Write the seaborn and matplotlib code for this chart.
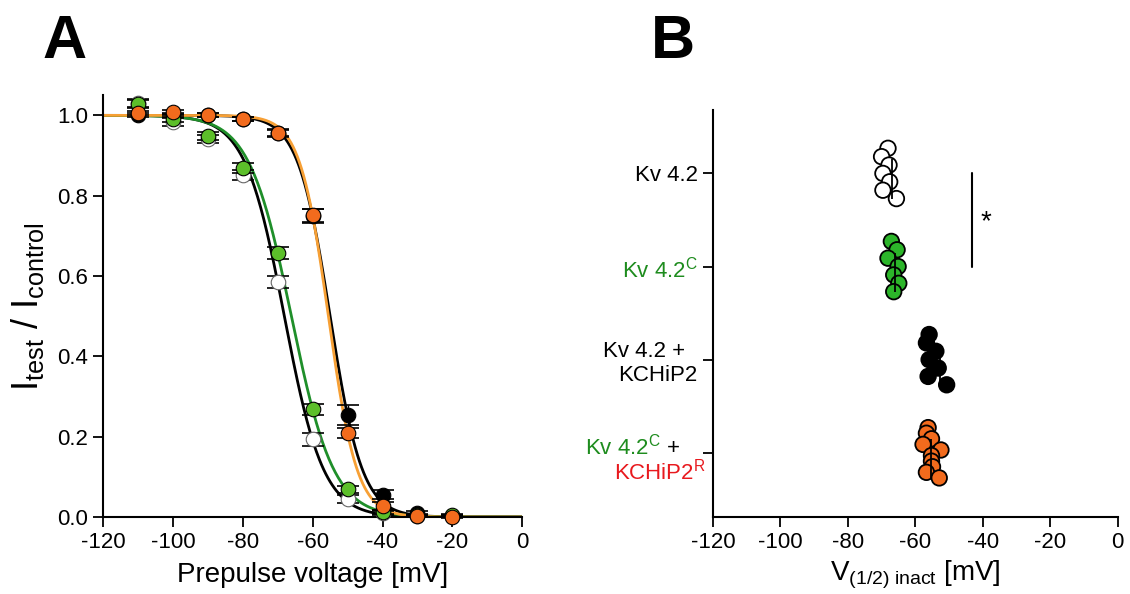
import numpy as np
import pandas as pd
import seaborn as sns
import matplotlib.pyplot as plt

# ---- Panel A: steady-state inactivation ----
prepulse = [-110, -100, -90, -80, -70, -60, -50, -40, -30, -20]

kv42 = [1.030, 0.983, 0.940, 0.851, 0.585, 0.193, 0.044, 0.010, 0.003, 0.002]
kv42_err = [0.010, 0.010, 0.010, 0.013, 0.015, 0.017, 0.010, 0.005, 0.003, 0.003]

kv42c = [1.029, 0.992, 0.948, 0.869, 0.657, 0.268, 0.069, 0.013, 0.004, 0.004]
kv42c_err = [0.010, 0.008, 0.010, 0.013, 0.015, 0.013, 0.008, 0.005, 0.003, 0.003]

kv42_kchip = [1.000, 1.000, 1.000, 0.990, 0.955, 0.750, 0.254, 0.056, 0.011, 0.003]
kv42_kchip_err = [0.005, 0.005, 0.005, 0.005, 0.008, 0.017, 0.025, 0.012, 0.005, 0.003]

kv42c_kchipr = [1.006, 1.008, 1.002, 0.992, 0.957, 0.751, 0.209, 0.027, 0.003, 0.001]
kv42c_kchipr_err = [0.005, 0.005, 0.005, 0.005, 0.008, 0.017, 0.012, 0.010, 0.003, 0.003]

# Boltzmann fit parameters: V1/2 [mV] and slope k [mV]
fit_vhalf = [-68.1, -66.1, -55.0, -55.5]
fit_slope = [5.6, 6.05, 4.6, 4.1]

# ---- Panel B: V1/2 of inactivation, single cells (top to bottom) ----
groups = ['Kv 4.2', 'Kv 4.2C', 'Kv 4.2 + KCHiP2', 'Kv 4.2C + KCHiP2R']
vhalf_kv42 = [-68.1, -70.0, -67.8, -69.6, -67.6, -69.6, -65.6]
vhalf_kv42c = [-67.1, -65.4, -68.1, -65.1, -66.4, -64.9, -66.4]
vhalf_kv42_kchip = [-55.9, -56.7, -53.9, -55.9, -53.2, -56.2, -50.7]
vhalf_kv42c_kchipr = [-56.2, -56.7, -55.2, -57.7, -52.4, -55.2, -55.2, -54.9, -56.7, -52.9]
bar_x = [-67.0, -66.0, -52.7, -55.3]
sig_x = -43.3

# colours
green_pt = '#5cbf2a'
green_pt_b = '#2cb52a'
green_line = '#1f8f2a'
green_txt = '#1e8c1e'
orange_pt = '#f26b1d'
orange_line = '#f7a035'
red_txt = '#e8191e'

sns.set_style('ticks')
plt.rcParams['font.family'] = ['Liberation Sans', 'DejaVu Sans']
plt.rcParams['mathtext.fontset'] = 'custom'
plt.rcParams['mathtext.rm'] = 'Liberation Sans'
plt.rcParams['mathtext.it'] = 'Liberation Sans:italic'
plt.rcParams['mathtext.bf'] = 'Liberation Sans:bold'
plt.rcParams['axes.unicode_minus'] = False
for key in ('text.color', 'axes.labelcolor', 'xtick.color', 'ytick.color', 'axes.edgecolor'):
    plt.rcParams[key] = 'black'

fig = plt.figure(figsize=(11.3, 5.94), dpi=100)
axA = fig.add_axes([0.0912, 0.1296, 0.371, 0.710])
axB = fig.add_axes([0.631, 0.1296, 0.358, 0.685])

# ---- Panel A ----
v = np.linspace(-120, 0, 400)
series = [
    (kv42, kv42_err, 'white', 'black'),
    (kv42_kchip, kv42_kchip_err, 'black', 'black'),
    (kv42c, kv42c_err, green_pt, green_line),
    (kv42c_kchipr, kv42c_kchipr_err, orange_pt, orange_line),
]
fit_order = [0, 2, 1, 3]
for i, (vals, err, fc, lc) in enumerate(series):
    vh, k = fit_vhalf[fit_order[i]], fit_slope[fit_order[i]]
    fit = pd.DataFrame({'v': v, 'y': 1 / (1 + np.exp((v - vh) / k))})
    sns.lineplot(data=fit, x='v', y='y', color=lc, lw=2, ax=axA, zorder=2)

for i, (vals, err, fc, lc) in enumerate(series):
    z = 3 + 2 * i
    axA.errorbar(prepulse, vals, yerr=err, fmt='none', ecolor='black',
                 elinewidth=1, capsize=8, capthick=1.2, zorder=z, clip_on=False)
    ec = '#666666' if fc == 'white' else 'black'
    sns.scatterplot(x=prepulse, y=vals, color=fc, edgecolor=ec, linewidth=0.8,
                    s=110, ax=axA, zorder=z + 1, clip_on=False)

axA.set_xlim(-120, 0)
axA.set_ylim(0, 1.05)
axA.set_xticks(np.arange(-120, 1, 20))
axA.set_yticks(np.arange(0, 1.01, 0.2))
axA.set_yticklabels(['%.1f' % t for t in np.arange(0, 1.01, 0.2)])
axA.set_xlabel('Prepulse voltage [mV]', fontsize=20, labelpad=6)
axA.set_ylabel(r'I$_{\mathrm{test}}$ / I$_{\mathrm{control}}$', fontsize=26, labelpad=8)

# ---- Panel B ----
vals_b = [vhalf_kv42, vhalf_kv42c, vhalf_kv42_kchip, vhalf_kv42c_kchipr]
rows = []
for gi, (g, vals) in enumerate(zip(groups, vals_b)):
    # cells stacked evenly in a column around the group position
    offs = np.linspace(-0.27, 0.27, len(vals))
    for val, o in zip(vals, offs):
        rows.append({'group': g, 'v': val, 'pos': gi + o})
dfB = pd.DataFrame(rows)

sns.scatterplot(data=dfB, x='v', y='pos', hue='group', hue_order=groups,
                palette=['white', green_pt_b, 'black', orange_pt], s=125,
                edgecolor='black', linewidth=1.3, legend=False, ax=axB, zorder=3)
axB.vlines(bar_x, np.arange(4) - 0.15, np.arange(4) + 0.27, color='black', lw=1.3, zorder=4)
axB.plot([sig_x, sig_x], [0, 1], color='black', lw=1.5)
axB.text(sig_x + 4.3, 0.52, '*', fontsize=20, ha='center', va='center')

axB.set_xlim(-120, 0)
axB.set_ylim(3.69, -0.68)
axB.set_xticks(np.arange(-120, 1, 20))
axB.set_yticks(range(4))
axB.set_yticklabels(['Kv 4.2', r'Kv 4.2$^{\mathrm{C}}$', 'Kv 4.2 +  \nKCHiP2', ''],
                    ha='right', multialignment='right')
axB.set_xlabel(r'V$_{\mathrm{(1/2)\ inact}}$ [mV]', fontsize=20, labelpad=4)
axB.set_ylabel('')

for ax in (axA, axB):
    sns.despine(ax=ax)
    for s in ('left', 'bottom'):
        ax.spines[s].set_linewidth(1.5)
        ax.spines[s].set_color('black')
    ax.tick_params(axis='both', labelsize=16, length=7, width=1.3, color='black',
                   labelcolor='black', pad=4, direction='out')
    ax.set_facecolor('white')
axB.get_yticklabels()[1].set_color(green_txt)

# multi-coloured label for the last group
t_plus = axB.annotate('+', xy=(0, 3), xycoords=('axes fraction', 'data'),
                      xytext=(-24, -1), textcoords='offset points',
                      ha='right', va='baseline', fontsize=16, color='black')
fig.canvas.draw()
w = t_plus.get_window_extent().width * 72 / fig.dpi
axB.annotate(r'Kv 4.2$^{\mathrm{C}}$', xy=(0, 3), xycoords=('axes fraction', 'data'),
             xytext=(-28 - w, -1), textcoords='offset points',
             ha='right', va='baseline', fontsize=16, color=green_txt)
axB.annotate(r'KCHiP2$^{\mathrm{R}}$', xy=(0, 3), xycoords=('axes fraction', 'data'),
             xytext=(-5, -19), textcoords='offset points',
             ha='right', va='baseline', fontsize=16, color=red_txt)

fig.text(42 / 1130, 1 - 58 / 594, 'A', fontsize=44, fontweight='bold', va='baseline')
fig.text(651 / 1130, 1 - 58 / 594, 'B', fontsize=44, fontweight='bold', va='baseline')

fig.savefig('out.png', dpi=100, facecolor='white')
